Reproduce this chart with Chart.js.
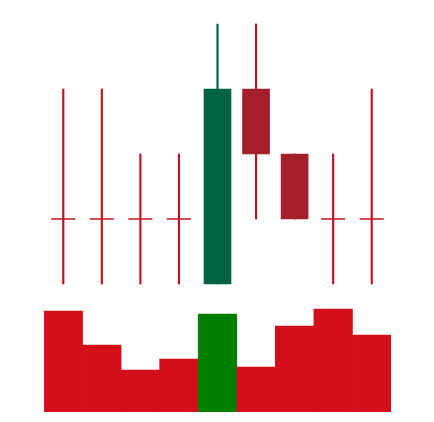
<!DOCTYPE html>
<html>
<head>
<meta charset="utf-8">
<script src="https://cdn.jsdelivr.net/npm/chart.js@4"></script>
<style>
  html, body { margin: 0; padding: 0; background: #fff; }
  canvas { display: block; }
</style>
</head>
<body>
<canvas id="chart" width="434" height="422"></canvas>
<script>
const days = ["1", "2", "3", "4", "5", "6", "7", "8", "9"];
const open = [2, 2, 2, 2, 1, 4, 3, 2, 2];
const close = [2, 2, 2, 2, 4, 3, 2, 2, 2];
const high = [4, 4, 3, 3, 5, 5, 3, 3, 4];
const low = [1, 1, 1, 1, 1, 2, 2, 1, 1];
const volume = [101, 67, 42, 53, 98, 45, 86, 103, 77];

const UP = "#006440", DOWN = "#A31F2A", WICK = "#C0121F";
const VOL_UP = "#007F00", VOL_DOWN = "#D20F1B";

const isDoji = i => open[i] === close[i];
const isUp = i => close[i] > open[i];

new Chart(document.getElementById("chart"), {
  type: "bar",
  data: {
    labels: days,
    datasets: [
      {
        // doji crosses
        type: "line",
        data: close.map((c, i) => isDoji(i) ? c : null),
        showLine: false,
        pointStyle: "line",
        pointRadius: 12,
        pointBorderWidth: 1.5,
        pointBorderColor: WICK,
        clip: false,
        yAxisID: "y"
      },
      {
        // bodies
        data: days.map((d, i) => isDoji(i) ? null : [open[i], close[i]]),
        backgroundColor: days.map((d, i) => isUp(i) ? UP : DOWN),
        barThickness: 27,
        grouped: false,
        yAxisID: "y"
      },
      {
        // wicks
        data: days.map((d, i) => [low[i], high[i]]),
        backgroundColor: days.map((d, i) => isUp(i) ? UP : WICK),
        barThickness: 1.5,
        grouped: false,
        yAxisID: "y"
      },
      {
        data: volume,
        backgroundColor: days.map((d, i) => isUp(i) ? VOL_UP : VOL_DOWN),
        barPercentage: 1,
        categoryPercentage: 1,
        grouped: false,
        yAxisID: "yv"
      }
    ]
  },
  options: {
    responsive: false,
    animation: false,
    layout: { autoPadding: false, padding: { left: 44, right: 43, top: 0, bottom: 10 } },
    plugins: { legend: { display: false }, tooltip: { enabled: false } },
    scales: {
      x: { display: false },
      y: { display: false, min: -0.969, max: 5.369 },
      yv: { display: false, min: 0, max: 412 }
    }
  }
});
</script>
</body>
</html>
